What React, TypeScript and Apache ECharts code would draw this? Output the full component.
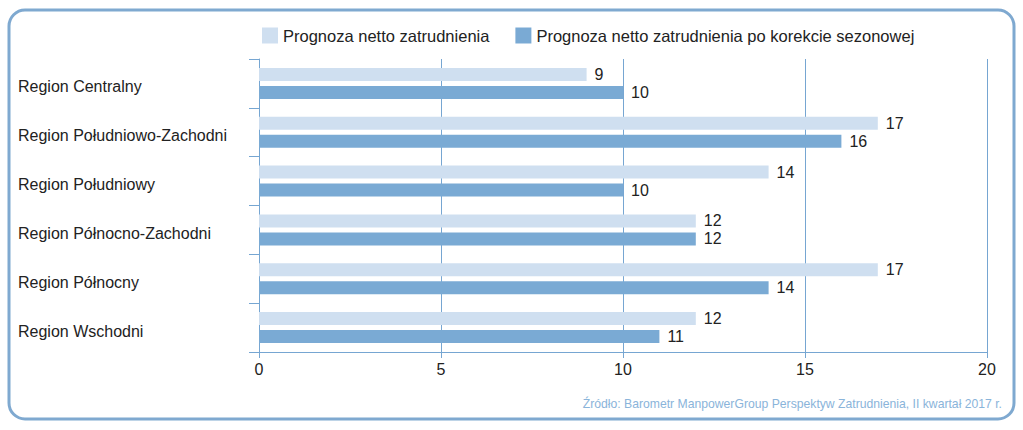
import React, { useEffect, useRef } from "react";
import * as echarts from "echarts";

const categories = [
  "Region Centralny",
  "Region Południowo-Zachodni",
  "Region Południowy",
  "Region Północno-Zachodni",
  "Region Północny",
  "Region Wschodni",
];
const seriesNames = [
  "Prognoza netto zatrudnienia",
  "Prognoza netto zatrudnienia po korekcie sezonowej",
];
const netForecast = [9, 17, 14, 12, 17, 12];
const seasonallyAdjusted = [10, 16, 10, 12, 14, 11];
const xTicks = [0, 5, 10, 15, 20];
const sourceText = "Źródło: Barometr ManpowerGroup Perspektyw Zatrudnienia, II kwartał 2017 r.";

const FONT = "'Liberation Sans', Arial, Helvetica, sans-serif";
const LIGHT = "#cfdff0";
const DARK = "#7aaad4";
const FRAME = "#7fa9d0";
const GRIDLINE = "#76a6d2";

export default function App() {
  const ref = useRef<HTMLDivElement>(null);
  useEffect(() => {
    if (!ref.current) return;
    const chart = echarts.init(ref.current, null, { renderer: "svg" });
    chart.setOption({
      animation: false,
      backgroundColor: "#ffffff",
      textStyle: { fontFamily: FONT },
      legend: {
        left: 257,
        top: 22,
        itemWidth: 16,
        itemHeight: 16,
        itemGap: 26,
        icon: "rect",
        textStyle: { fontSize: 16.5, color: "#222", fontFamily: FONT },
        data: seriesNames,
      },
      grid: { left: 259, right: 36, top: 59, bottom: 78 },
      xAxis: {
        type: "value",
        min: xTicks[0],
        max: xTicks[xTicks.length - 1],
        interval: 5,
        axisLine: { show: true, lineStyle: { color: GRIDLINE, width: 1 } },
        axisTick: { show: true, length: 6, inside: false, lineStyle: { color: GRIDLINE } },
        splitLine: { show: true, lineStyle: { color: GRIDLINE, width: 1 } },
        axisLabel: { color: "#222", fontSize: 16, margin: 9, fontFamily: FONT },
      },
      yAxis: {
        type: "category",
        inverse: true,
        data: categories,
        axisLine: { show: true, lineStyle: { color: GRIDLINE, width: 1 } },
        axisTick: { show: true, length: 10, lineStyle: { color: GRIDLINE } },
        axisLabel: {
          color: "#222",
          fontSize: 16,
          align: "left",
          verticalAlign: "top",
          lineHeight: 7,
          margin: 241,
          fontFamily: FONT,
        },
      },
      series: [
        {
          name: seriesNames[0],
          type: "bar",
          data: netForecast,
          barWidth: 13,
          barGap: "38%",
          itemStyle: { color: LIGHT },
          label: { show: true, position: "right", distance: 8, color: "#222", fontSize: 16, fontFamily: FONT },
        },
        {
          name: seriesNames[1],
          type: "bar",
          data: seasonallyAdjusted,
          barWidth: 13,
          barGap: "38%",
          itemStyle: { color: DARK },
          label: { show: true, position: "right", distance: 8, color: "#222", fontSize: 16, fontFamily: FONT },
        },
      ],
      graphic: [
        {
          type: "rect",
          shape: { x: 9, y: 10, width: 1005, height: 409, r: 16 },
          style: { fill: "none", stroke: FRAME, lineWidth: 3 },
          silent: true,
        },
        {
          type: "text",
          right: 21,
          top: 398,
          style: { text: sourceText, fill: "#8ab4da", fontSize: 12.2, fontFamily: FONT },
        },
      ],
    });
    return () => chart.dispose();
  }, []);
  return (
    <div
      ref={ref}
      style={{ position: "fixed", left: 0, top: 0, width: 1023, height: 430 }}
    />
  );
}
